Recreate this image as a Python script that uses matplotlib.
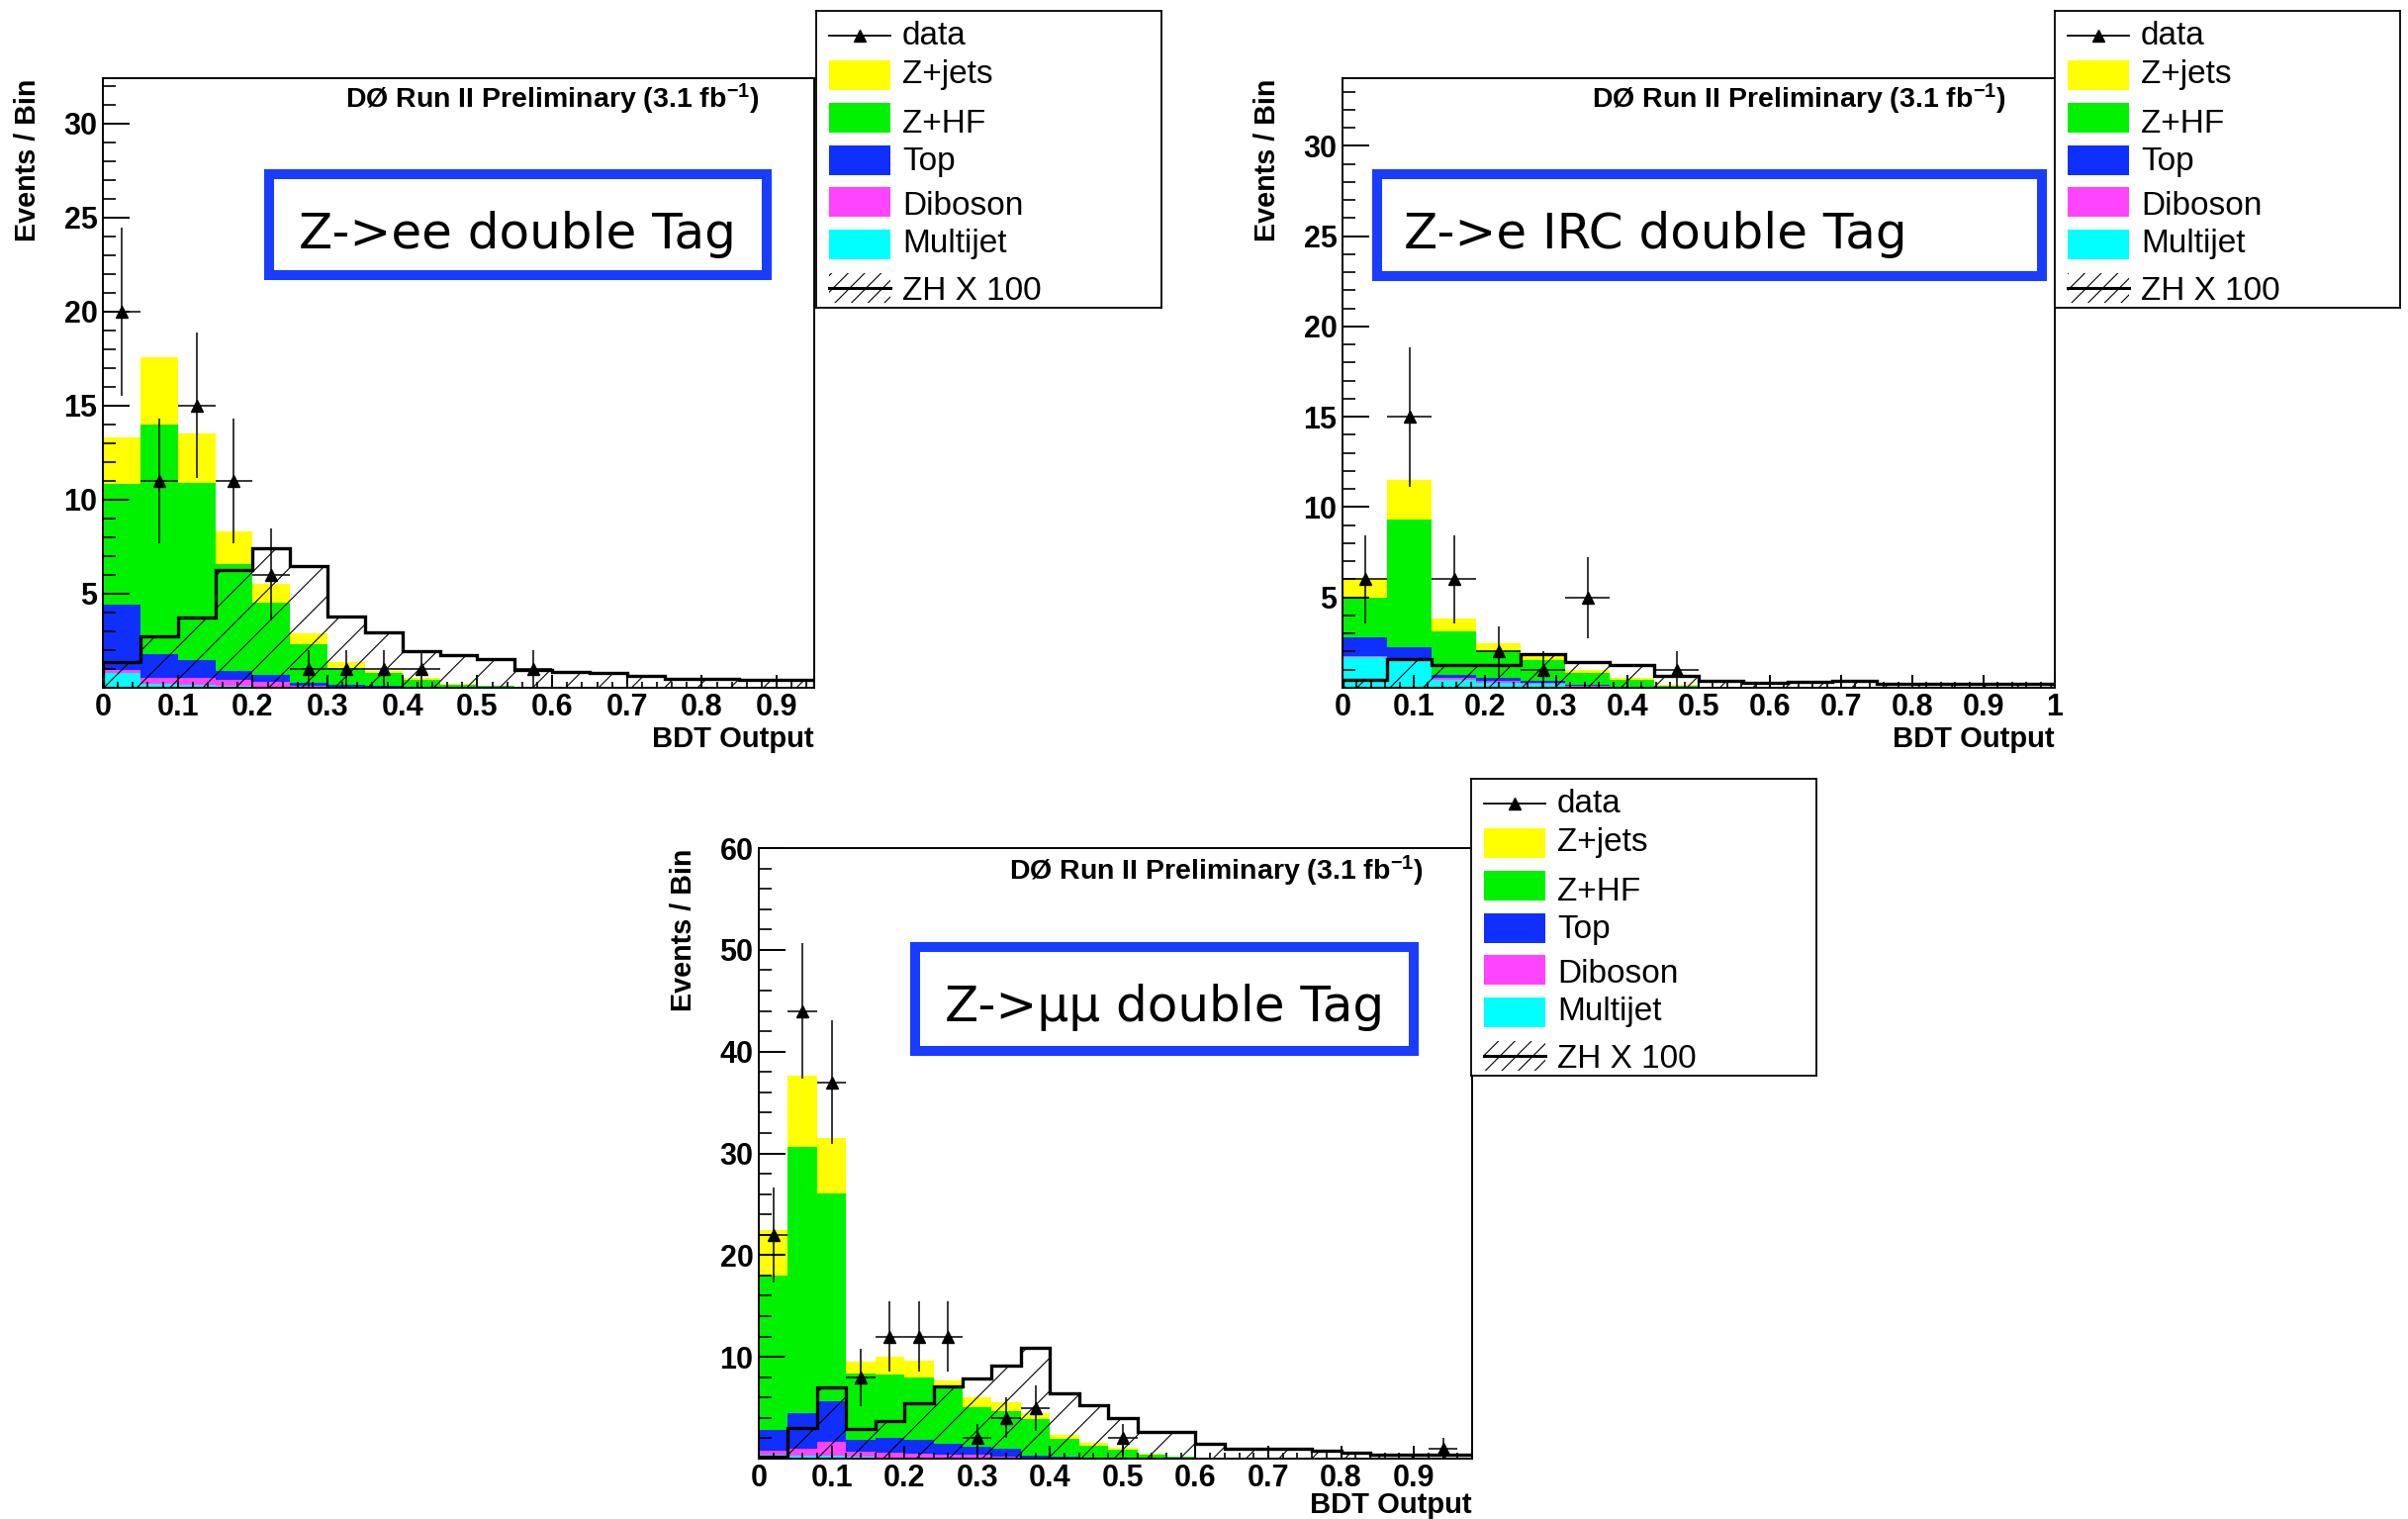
import numpy as np
import matplotlib
matplotlib.use("Agg")
import matplotlib.pyplot as plt
from matplotlib.patches import Rectangle
from matplotlib.transforms import Affine2D
from matplotlib.ticker import MultipleLocator, FixedLocator, FuncFormatter

# Canvas size in pixels
W, H = 2434, 1535

plt.rcParams['font.family'] = ['Liberation Sans', 'DejaVu Sans']
plt.rcParams['font.weight'] = 'bold'
plt.rcParams['mathtext.fontset'] = 'custom'
plt.rcParams['mathtext.rm'] = 'Liberation Sans:bold'
plt.rcParams['mathtext.default'] = 'rm'
plt.rcParams['hatch.linewidth'] = 0.8

# Legend / sample names
legend_labels = ["data", "Z+jets", "Z+HF", "Top", "Diboson", "Multijet", "ZH X 100"]
# stack order, bottom -> top
stack_colors = ['#00ffff', '#ff44ff', '#0f2fff', '#00f200', '#ffff00']
legend_colors = ['#ffff00', '#00f200', '#0f2fff', '#ff44ff', '#00ffff']

# ---- Z->ee double tag: 19 bins of 0.05 ----
ee_edges = np.linspace(0, 0.95, 20)
ee_multijet = [0.8, 0.2, 0.15, 0.1, 0.05, 0.03, 0.02, 0.01, 0.01, 0.01, 0.01, 0.01, 0.01, 0.01, 0.01, 0.01, 0.01, 0.01, 0.01]
ee_diboson = [0.15, 0.35, 0.4, 0.3, 0.25, 0.1, 0.05, 0.03, 0.02, 0.01, 0.01, 0, 0, 0, 0, 0, 0, 0, 0]
ee_top = [3.45, 1.23, 0.92, 0.47, 0.4, 0.12, 0.08, 0.04, 0.02, 0.01, 0.01, 0, 0, 0, 0, 0, 0, 0, 0]
ee_zhf = [6.45, 12.22, 9.43, 5.73, 3.8, 2.09, 0.9, 0.69, 0.35, 0.13, 0.06, 0.03, 0.02, 0.02, 0.01, 0.01, 0.01, 0.01, 0.01]
ee_zjets = [2.45, 3.55, 2.6, 1.7, 1.0, 0.54, 0.31, 0.13, 0.1, 0.05, 0.03, 0.01, 0.01, 0.01, 0, 0, 0, 0, 0]
ee_zh = [1.36, 2.76, 3.74, 6.27, 7.44, 6.46, 3.81, 2.95, 1.94, 1.71, 1.54, 0.94, 0.84, 0.77, 0.65, 0.49, 0.47, 0.42, 0.40]
ee_data = [20, 11, 15, 11, 6, 1, 1, 1, 1, 0, 0, 1, 0, 0, 0, 0, 0, 0, 0]

# ---- Z->e ICR double tag: 16 bins of 0.0625 ----
ecr_edges = np.linspace(0, 1.0, 17)
ecr_multijet = [1.7, 1.6, 0.44, 0.3, 0.2, 0.05, 0.02, 0.01, 0.01, 0.01, 0.01, 0.01, 0.01, 0.01, 0.01, 0.01]
ecr_diboson = [0.07, 0.05, 0.12, 0.1, 0.1, 0.05, 0.02, 0.01, 0, 0, 0, 0, 0, 0, 0, 0]
ecr_top = [1.02, 0.6, 0.17, 0.16, 0.1, 0.05, 0.02, 0.01, 0, 0, 0, 0, 0, 0, 0, 0]
ecr_zhf = [2.21, 7.08, 2.42, 1.44, 1.13, 0.65, 0.38, 0.08, 0.04, 0.02, 0.02, 0.02, 0.02, 0.02, 0.02, 0.02]
ecr_zjets = [1.0, 2.17, 0.68, 0.47, 0.31, 0.17, 0.12, 0.05, 0.02, 0.01, 0.01, 0.01, 0.01, 0.01, 0.01, 0.01]
ecr_zh = [0.44, 1.6, 1.28, 1.28, 1.89, 1.4, 1.26, 0.68, 0.39, 0.3, 0.33, 0.36, 0.2, 0.24, 0.24, 0.24]
ecr_data = [6, 15, 6, 2, 1, 5, 0, 1, 0, 0, 0, 0, 0, 0, 0, 0]

# ---- Z->mumu double tag: 25 bins of 0.04 ----
mm_edges = np.linspace(0, 1.0, 26)
mm_multijet = [0.4, 0.3, 0.3, 0.15, 0.1, 0.1, 0.05, 0.05, 0.03, 0.02, 0.02, 0.01, 0.01, 0.01, 0.01, 0.01, 0.01, 0.01, 0.01, 0.01, 0.01, 0.01, 0.01, 0.01, 0.01]
mm_diboson = [0.4, 0.7, 1.34, 0.55, 0.5, 0.4, 0.35, 0.3, 0.2, 0.1, 0.05, 0.03, 0.02, 0.01, 0.01, 0, 0, 0, 0, 0, 0, 0, 0, 0, 0]
mm_top = [2.0, 3.5, 3.96, 1.1, 1.4, 1.3, 1.1, 0.81, 0.77, 0.18, 0.08, 0.02, 0.02, 0.01, 0.01, 0, 0, 0, 0, 0, 0, 0, 0, 0, 0]
mm_zhf = [15.2, 26.1, 20.5, 6.6, 6.3, 6.2, 5.5, 3.94, 3.66, 3.6, 1.79, 1.24, 0.81, 0.38, 0.14, 0.06, 0.03, 0.03, 0.03, 0.03, 0.03, 0.03, 0.03, 0.03, 0.03]
mm_zjets = [4.5, 7.0, 5.4, 1.1, 1.7, 1.6, 0.7, 0.95, 0.84, 0.6, 0.43, 0.3, 0.22, 0.1, 0.05, 0.03, 0.01, 0.01, 0.01, 0.01, 0.01, 0.01, 0.01, 0.01, 0.01]
mm_zh = [0.2, 3.0, 7.0, 2.9, 3.67, 5.4, 7.1, 7.86, 9.15, 10.9, 6.4, 5.27, 4.0, 2.6, 2.6, 1.5, 1.0, 1.0, 1.0, 0.73, 0.6, 0.43, 0.43, 0.43, 0.4]
mm_data = [22, 44, 37, 8, 12, 12, 12, 2, 4, 5, 0, 0, 2, 0, 0, 0, 0, 0, 0, 0, 0, 0, 0, 1, 0]

box_texts = ["Z->ee double Tag", "Z->e IRC double Tag", "Z->\u03bc\u03bc double Tag"]
prelim_text = r"DØ Run II Preliminary (3.1 fb$^{-1}$)"

fig = plt.figure(figsize=(W / 100, H / 100), dpi=100)
# pixel coordinates, origin top-left
px = Affine2D().scale(1.0 / W, -1.0 / H).translate(0, 1) + fig.transFigure


def draw_panel(left, top, right, bottom, edges, xmax, ymax, yticks, yminor,
               comps, zh, data, xlab_gap=60):
    ax = fig.add_axes([left / W, 1 - bottom / H, (right - left) / W, (bottom - top) / H])
    base = np.zeros(len(zh))
    for vals, col in zip(comps, stack_colors):
        vals = np.asarray(vals, dtype=float)
        ax.stairs(base + vals, edges, baseline=base.copy(), fill=True,
                  facecolor=col, edgecolor='none', lw=0)
        base = base + vals
    ax.stairs(zh, edges, baseline=0, fill=True, facecolor='none',
              edgecolor='black', hatch='/', lw=0)
    ax.stairs(zh, edges, color='black', lw=2.4)

    d = np.asarray(data, dtype=float)
    centers = 0.5 * (edges[:-1] + edges[1:])
    half = 0.5 * np.diff(edges)
    m = d > 0
    ax.errorbar(centers[m], d[m], yerr=np.sqrt(d[m]), xerr=half[m], fmt='^',
                color='black', ms=8.6, elinewidth=1.1, capsize=0, zorder=5)

    ax.set_xlim(0, xmax)
    ax.set_ylim(0, ymax)
    ax.xaxis.set_major_locator(MultipleLocator(0.1))
    ax.xaxis.set_minor_locator(MultipleLocator(0.02))
    ax.xaxis.set_major_formatter(FuncFormatter(lambda v, p: f"{v:g}"))
    ax.yaxis.set_major_locator(FixedLocator(yticks))
    ax.yaxis.set_minor_locator(MultipleLocator(yminor))
    ax.yaxis.set_major_formatter(FuncFormatter(lambda v, p: f"{v:g}"))
    ax.tick_params(axis='x', which='major', direction='in', length=9.4, width=1.4,
                   labelsize=22, pad=3.5)
    ax.tick_params(axis='x', which='minor', direction='in', length=4.5, width=1.2)
    ax.tick_params(axis='y', which='major', direction='in', length=19.5, width=1.4,
                   labelsize=22, pad=4)
    ax.tick_params(axis='y', which='minor', direction='in', length=9.5, width=1.2)
    for s in ax.spines.values():
        s.set_linewidth(1.4)

    fig.text(left - 76, top + 1, "Events / Bin", transform=px, rotation=90,
             ha='center', va='top', fontsize=20.7, fontweight='bold')
    fig.text(right, bottom + xlab_gap, "BDT Output", transform=px, ha='right',
             va='baseline', fontsize=21, fontweight='bold')
    return ax


def draw_legend(left, top):
    w, h = 349, 300
    lax = fig.add_axes([left / W, 1 - (top + h) / H, w / W, h / H])
    lax.set_xlim(0, w)
    lax.set_ylim(h, 0)
    lax.set_xticks([])
    lax.set_yticks([])
    for s in lax.spines.values():
        s.set_linewidth(1.3)
    rows = [25, 65, 108, 151, 193, 236, 280]
    text_rows = [23, 62, 112, 150, 195, 233, 281]
    lax.plot([13, 75], [rows[0], rows[0]], color='black', lw=1.3)
    lax.plot([44], [rows[0]], marker='^', color='black', ms=8)
    for y, col in zip(rows[1:6], legend_colors):
        lax.add_patch(Rectangle((13, y - 15), 62, 30, facecolor=col, edgecolor='none'))
    lax.add_patch(Rectangle((13, rows[6] - 15), 62, 30, facecolor='none',
                            edgecolor='black', hatch='//', lw=0))
    lax.plot([13, 75], [rows[6], rows[6]], color='black', lw=2.2)
    for y, lab in zip(text_rows, legend_labels):
        lax.text(87, y + 11, lab, fontsize=24, fontweight='normal', va='baseline')


def draw_box(x0, y0, x1, y1, text, tx, ty, ha):
    fig.add_artist(Rectangle((x0 + 5, y0 + 5), x1 - x0 - 10, y1 - y0 - 10,
                             transform=px, facecolor='white', edgecolor='#1a3cff',
                             lw=7.2))
    fig.text(tx, ty, text, transform=px, ha=ha, va='baseline', fontsize=36,
             fontweight='normal', family='DejaVu Sans', color='black')


# Z->ee
draw_panel(104, 79, 823, 695, ee_edges, 0.95, 32.4, [5, 10, 15, 20, 25, 30], 1,
           [ee_multijet, ee_diboson, ee_top, ee_zhf, ee_zjets], ee_zh, ee_data)
fig.text(349, 109, prelim_text, transform=px, ha='left', va='baseline', fontsize=20.5)
draw_box(267, 171, 780, 283, box_texts[0], 523, 251, 'center')
draw_legend(825, 11)

# Z->e ICR
draw_panel(1357, 79, 2077, 695, ecr_edges, 1.0, 33.75, [5, 10, 15, 20, 25, 30], 1,
           [ecr_multijet, ecr_diboson, ecr_top, ecr_zhf, ecr_zjets], ecr_zh, ecr_data)
fig.text(1609, 109, prelim_text, transform=px, ha='left', va='baseline', fontsize=20.5)
draw_box(1387, 171, 2069, 284, box_texts[1], 1419, 251, 'left')
draw_legend(2077, 11)

# Z->mumu
draw_panel(767, 857, 1488, 1474, mm_edges, 0.98, 60, [10, 20, 30, 40, 50, 60], 2,
           [mm_multijet, mm_diboson, mm_top, mm_zhf, mm_zjets], mm_zh, mm_data,
           xlab_gap=55)
fig.text(1020, 889, prelim_text, transform=px, ha='left', va='baseline', fontsize=20.5)
draw_box(920, 952, 1434, 1067, box_texts[2], 1177, 1032, 'center')
draw_legend(1487, 787)

fig.savefig("out.png", dpi=100)
